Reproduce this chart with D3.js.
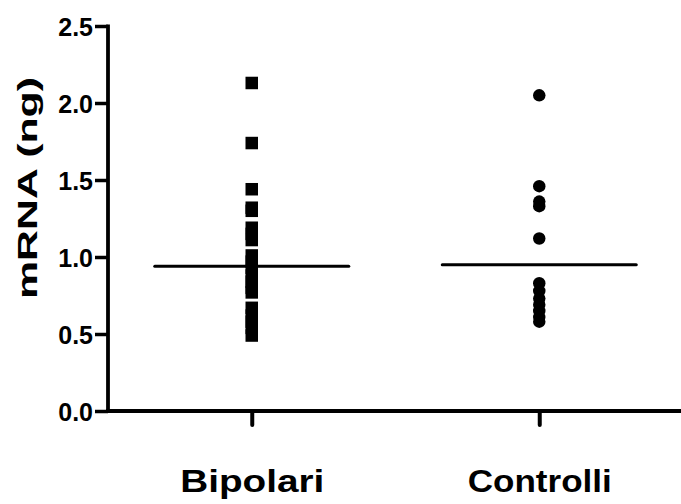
<!DOCTYPE html>
<html>
<head>
<meta charset="utf-8">
<script src="https://cdn.jsdelivr.net/npm/d3@7"></script>
<style>
  body { margin: 0; background: #fff; }
  svg text { font-family: Arial, "Liberation Sans", Helvetica, sans-serif; font-weight: bold; fill: #000; }
</style>
</head>
<body>
<svg id="chart" width="681" height="504"></svg>
<script>
/****** data *****************************/
const categories = ["Bipolari", "Controlli"];
const bipolari = [2.13, 1.74, 1.44, 1.32, 1.30, 1.19, 1.15, 1.11, 1.01, 0.97, 0.93, 0.88,
                  0.84, 0.80, 0.77, 0.67, 0.62, 0.58, 0.54, 0.49];
const controlli = [2.05, 1.46, 1.36, 1.33, 1.12, 0.83, 0.78, 0.73, 0.69, 0.65, 0.61, 0.58];
const lineValues = [0.94, 0.95];   // horizontal line drawn for each group
const yTicks = [0, 0.5, 1.0, 1.5, 2.0, 2.5];
const yLabel = "mRNA (ng)";

/** chart **/
var svg = d3.select("#chart");
var x0 = 108, x1 = 681, yTop = 26, yBottom = 411;

var x = d3.scalePoint()
    .domain(categories)
    .range([x0, x1 + 2])
    .padding(0.5);

var y = d3.scaleLinear()
    .domain([0, 2.5])
    .range([yBottom, yTop]);

// y axis
var yAxis = svg.append("g")
    .attr("transform", "translate(" + x0 + ",0)")
    .call(d3.axisLeft(y).tickValues(yTicks).tickFormat(d3.format(".1f")).tickSize(13).tickPadding(2));
yAxis.select(".domain").remove();
yAxis.selectAll(".tick line").attr("stroke", "#000").attr("stroke-width", 3.5);
yAxis.selectAll(".tick text").style("font-size", "25px").attr("dy", "0.36em");
yAxis.append("line")
    .attr("x1", 0).attr("x2", 0)
    .attr("y1", yTop - 1.5).attr("y2", yBottom + 1.5)
    .attr("stroke", "#000").attr("stroke-width", 3.8);

// x axis
var xAxis = svg.append("g")
    .attr("transform", "translate(0," + yBottom + ")")
    .call(d3.axisBottom(x).tickSize(14).tickPadding(45));
xAxis.select(".domain").remove();
xAxis.selectAll(".tick line").attr("stroke", "#000").attr("stroke-width", 4).attr("stroke-linecap", "round");
xAxis.selectAll(".tick text")
    .style("font-size", "31px")
    .attr("textLength", 144)
    .attr("lengthAdjust", "spacingAndGlyphs");
xAxis.append("line")
    .attr("x1", x0 - 2).attr("x2", x1)
    .attr("y1", 0).attr("y2", 0)
    .attr("stroke", "#000").attr("stroke-width", 3.8);

// y axis title
svg.append("text")
    .attr("transform", "translate(37,188) rotate(-90)")
    .attr("text-anchor", "middle")
    .attr("textLength", 222)
    .attr("lengthAdjust", "spacingAndGlyphs")
    .style("font-size", "28px")
    .text(yLabel);

// points
var size = 12.5;
svg.append("g").selectAll("rect")
    .data(bipolari)
    .enter().append("rect")
    .attr("x", x(categories[0]) - size / 2)
    .attr("y", function (d) { return y(d) - size / 2; })
    .attr("width", size)
    .attr("height", size)
    .attr("fill", "#000");

svg.append("g").selectAll("circle")
    .data(controlli)
    .enter().append("circle")
    .attr("cx", x(categories[1]))
    .attr("cy", function (d) { return y(d); })
    .attr("r", size / 2)
    .attr("fill", "#000");

// group lines
svg.append("g").selectAll("line")
    .data(lineValues)
    .enter().append("line")
    .attr("x1", function (d, i) { return x(categories[i]) - 97; })
    .attr("x2", function (d, i) { return x(categories[i]) + 97; })
    .attr("y1", function (d) { return y(d); })
    .attr("y2", function (d) { return y(d); })
    .attr("stroke", "#000")
    .attr("stroke-width", 3)
    .attr("stroke-linecap", "round");
</script>
</body>
</html>
